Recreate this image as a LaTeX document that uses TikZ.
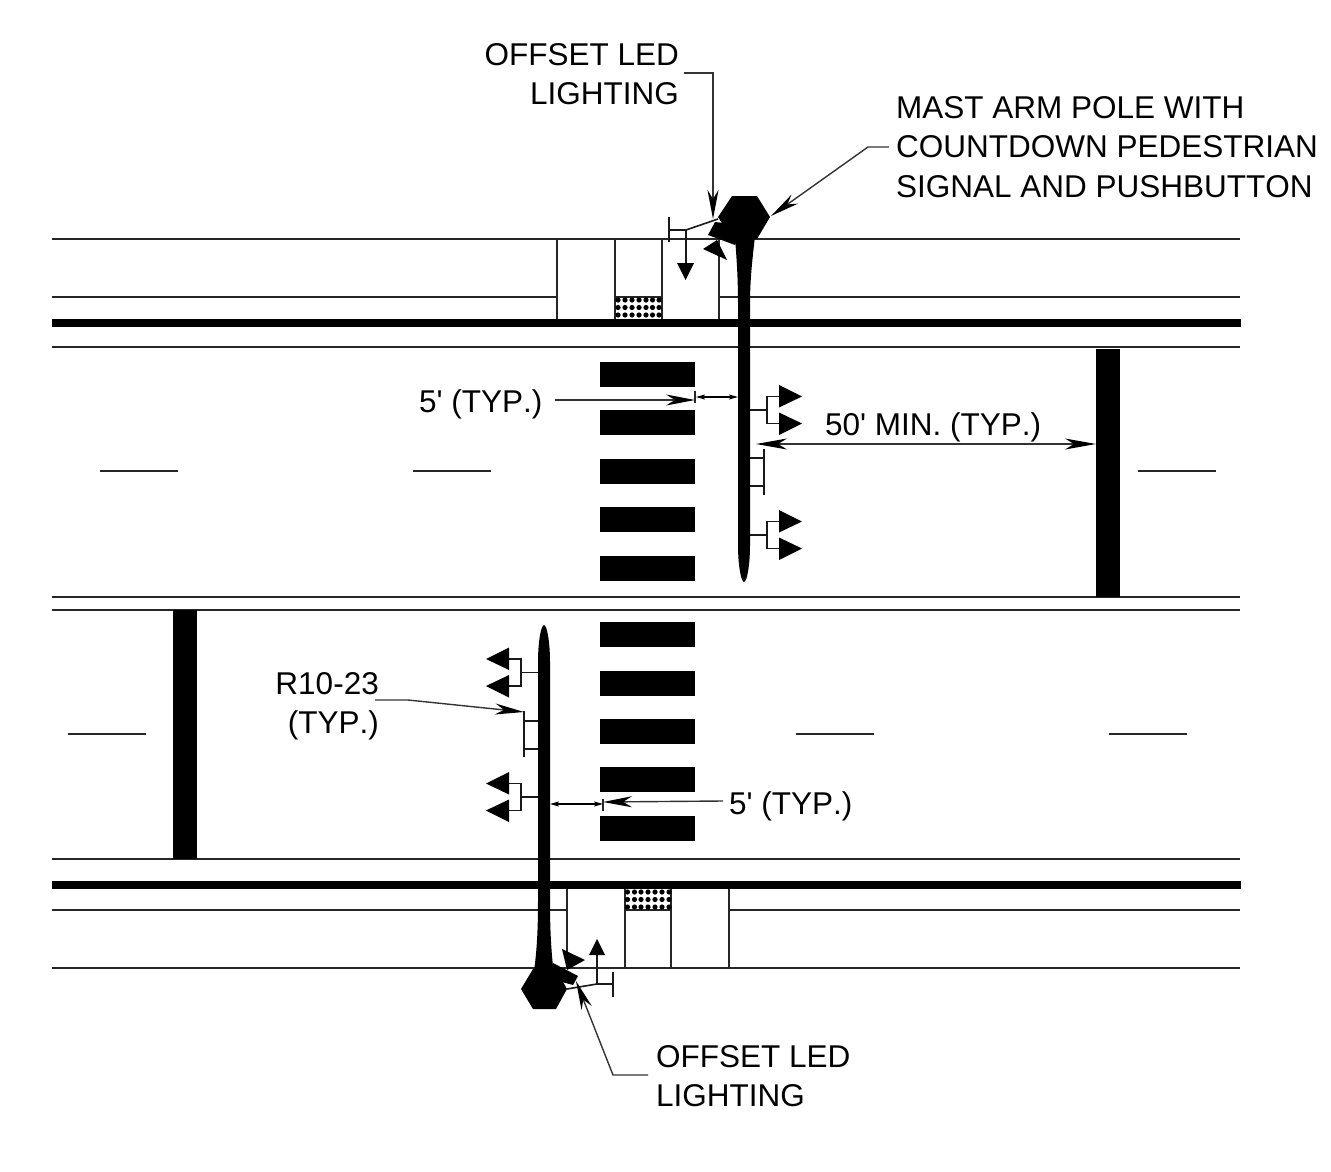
\documentclass[tikz,border=0pt]{standalone}
\usepackage{fontspec}
\setmainfont{Liberation Sans}
\newfontfamily\labfont{Liberation Sans}[Kerning=Off]
\usetikzlibrary{arrows.meta}
\tikzset{
 road/.style={line width=1.2pt,black!85},
 thickroad/.style={line width=8pt,black},
 bar/.style={fill=black,draw=none},
 wire/.style={line width=1.6pt,black!90},
 leader/.style={line width=1.4pt,black!80,-{Stealth[length=29pt,width=11pt,inset=9pt,black]}},
 leaderboth/.style={line width=1.4pt,black!80,{Stealth[length=31pt,width=11pt,inset=9pt,black]}-{Stealth[length=31pt,width=11pt,inset=9pt,black]}},
 dim/.style={line width=1.3pt,black,{Stealth[length=9pt,width=5pt,inset=2pt]}-{Stealth[length=9pt,width=5pt,inset=2pt]}},
 label/.style={font=\labfont\fontsize{31.5}{39.5}\selectfont,inner sep=0pt,align=left},
 labelr/.style={font=\labfont\fontsize{31.5}{39.5}\selectfont,inner sep=0pt,align=right},
 dotc/.style={fill=black,draw=none},
}
\begin{document}
\begin{tikzpicture}[x=1pt,y=-1pt]
\useasboundingbox (0,0) rectangle (1331,1172);
% roads
\foreach \y in {239,347,597,610,859,968} \draw[road] (52,\y) -- (1240,\y);
\draw[road] (52,297) -- (557,297) (615,297) -- (662,297) (719,297) -- (1240,297);
\draw[road] (52,910) -- (567,910) (625,910) -- (671,910) (729,910) -- (1240,910);
\foreach \x in {557,615,662,719} \draw[road] (\x,239) -- (\x,320);
\foreach \x in {567,625,671,729} \draw[road] (\x,888) -- (\x,968);
\draw[thickroad] (52,323) -- (1241,323);
\draw[thickroad] (52,885) -- (1241,885);
% dashes
\foreach \a in {100,413,1138} \draw[road] (\a,471) -- +(78,0);
\foreach \a in {68,796,1109} \draw[road] (\a,734) -- +(78,0);
% stop bars
\fill[bar] (1096,349) rectangle (1120,597);
\fill[bar] (173,610) rectangle (197,859);
% crosswalk
\foreach \y in {362,410,459,507,556,622,671,719,767,816} \fill[bar] (600,\y) rectangle (695,\y+24.5);
% detectable pads
\foreach \x in {618,625,632,639,646,652.5,659} \foreach \y in {300,307.5,315} \fill[dotc] (\x,\y) circle (2.6);
\foreach \x in {627.5,634.5,641,648,655,662,669} \foreach \y in {892,899.5,907} \fill[dotc] (\x,\y) circle (2.6);
% top pole
\fill[bar] (732,196) -- (757,196) -- (770,217) -- (757,239) -- (732,239) -- (718,217) -- cycle;
\fill[bar] (734.5,232) .. controls (737,262) and (738,280) .. (738,305) -- (738,545) .. controls (738,565) and (741,582) .. (744,582) .. controls (747,582) and (750,565) .. (750,545) -- (750,305) .. controls (750,280) and (752,262) .. (755.5,232) -- cycle;
\fill[bar] (715,222) -- (708,235) -- (735,245) -- (742,225) -- cycle;
\fill[bar] (703,249) -- (717,240) -- (727,260) -- cycle;
\draw[wire] (669,217) -- (669,242);
\draw[wire] (669,230) -- (686,230) -- (718,219);
\draw[wire] (686,230) -- (686,264);
\fill[bar] (677,263) -- (694,263) -- (685.5,280) -- cycle;
% bottom pole
\fill[bar] (533,1009) -- (556,1009) -- (567,989) -- (556,969) -- (533,969) -- (521,989) -- cycle;
\fill[bar] (533.5,975) .. controls (537,950) and (538,930) .. (538,900) -- (538,662) .. controls (538,642) and (541,625) .. (544,625) .. controls (547,625) and (550,642) .. (550,662) -- (550,900) .. controls (550,930) and (551,950) .. (554,975) -- cycle;
\fill[bar] (553,963) -- (578,976) -- (573,985) -- (562,982) -- (552,985) -- cycle;
\fill[bar] (562,949) -- (585,960) -- (567,970) -- cycle;
\draw[wire] (613,972) -- (613,997);
\draw[wire] (567,989) -- (597,984) -- (613,984);
\draw[wire] (597,984) -- (597,954);
\fill[bar] (589,955) -- (605,955) -- (597,939) -- cycle;
% right signals
\foreach \c in {410,535} {
 \draw[wire] (750,\c) -- (767,\c);
 \draw[wire] (779,\c-13.5) -- (767,\c-13.5) -- (767,\c+13.5) -- (779,\c+13.5);
 \fill[bar] (779,\c-25) -- (779,\c-2.5) -- (802,\c-13.5) -- cycle;
 \fill[bar] (779,\c+2.5) -- (779,\c+25) -- (802,\c+13.5) -- cycle;
}
\draw[wire] (764,449) -- (764,495);
\draw[wire] (750,458) -- (764,458) (750,486) -- (764,486);
% left signals
\foreach \c in {672.5,797} {
 \draw[wire] (538,\c) -- (521,\c);
 \draw[wire] (509,\c-13.5) -- (521,\c-13.5) -- (521,\c+13.5) -- (509,\c+13.5);
 \fill[bar] (509,\c-25) -- (509,\c-2.5) -- (486,\c-13.5) -- cycle;
 \fill[bar] (509,\c+2.5) -- (509,\c+25) -- (486,\c+13.5) -- cycle;
}
\draw[wire] (524,711) -- (524,757);
\draw[wire] (524,721) -- (538,721) (524,749) -- (538,749);
% labels
\node[labelr,anchor=north east] (t1) at (679,43) {OFFSET LED\\LIGHTING};
\node[label,anchor=north west] (t2) at (896,96) {MAST ARM POLE WITH\\COUNTDOWN PEDESTRIAN\\SIGNAL AND PUSHBUTTON};
\node[label,anchor=base west] (t3) at (419,412) {5' (TYP.)};
\node[label,anchor=base west] (t4) at (825,435) {50' MIN. (TYP.)};
\node[labelr,anchor=north east] (t5) at (379,672) {R10-23\\(TYP.)};
\node[label,anchor=base west] (t6) at (729,814) {5' (TYP.)};
\node[label,anchor=north west] (t7) at (656,1045) {OFFSET LED\\LIGHTING};
% connector ends
\coordinate (a1) at (713,219);
\coordinate (a2) at (771,216);
\coordinate (a3) at (695,400);
\coordinate (a3s) at (555,400);
\coordinate (a4) at (756,444);
\coordinate (a5) at (1096,444);
\coordinate (a6) at (524,712);
\coordinate (a6s) at (375,700);
\coordinate (a6m) at (408,700);
\coordinate (a7) at (603,802);
\coordinate (a7s) at (723,801);
\coordinate (a8) at (576,981);
\draw[leader] (684,73) -- (713,73) -- (a1);
\draw[leader] (889,147) -- (868,147) -- (a2);
\draw[leader] (a3s) -- (a3);
\draw[leaderboth] (a4) -- (a5);
\draw[leader] (a6s) -- (a6m) -- (a6);
\draw[leader] (a7s) -- (a7);
\draw[leader] (648,1075) -- (613,1075) -- (a8);
% dimension lines
\draw[road] (695,391) -- (695,403);
\draw[road] (603,799) -- (603,811);
\draw[dim] (696,397) -- (738,397);
\draw[dim] (550,804) -- (603,804);
\end{tikzpicture}
\end{document}
